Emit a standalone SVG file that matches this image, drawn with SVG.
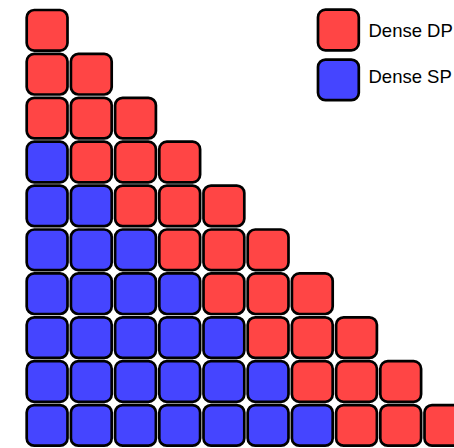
<svg xmlns="http://www.w3.org/2000/svg" width="454" height="448" viewBox="0 0 454 448">
<style>
.c{stroke:#000;stroke-width:2.7}
.r{fill:#ff4545}
.b{fill:#4545ff}
.t{font-family:"Liberation Sans",Arial,sans-serif;font-size:18.5px;fill:#000}
</style>
<rect width="454" height="448" fill="#fff"/>
<defs>
<rect id="cell" width="40.8" height="40.6" rx="7.5"/>
</defs>
<g id="grid">
<g id="row0"><use href="#cell" class="c r" x="26.7" y="10"/></g>
<g id="row1"><use href="#cell" class="c r" x="26.7" y="53.9"/><use href="#cell" class="c r" x="70.9" y="53.9"/></g>
<g id="row2"><use href="#cell" class="c r" x="26.7" y="97.8"/><use href="#cell" class="c r" x="70.9" y="97.8"/><use href="#cell" class="c r" x="115.1" y="97.8"/></g>
<g id="row3"><use href="#cell" class="c b" x="26.7" y="141.7"/><use href="#cell" class="c r" x="70.9" y="141.7"/><use href="#cell" class="c r" x="115.1" y="141.7"/><use href="#cell" class="c r" x="159.3" y="141.7"/></g>
<g id="row4"><use href="#cell" class="c b" x="26.7" y="185.6"/><use href="#cell" class="c b" x="70.9" y="185.6"/><use href="#cell" class="c r" x="115.1" y="185.6"/><use href="#cell" class="c r" x="159.3" y="185.6"/><use href="#cell" class="c r" x="203.5" y="185.6"/></g>
<g id="row5"><use href="#cell" class="c b" x="26.7" y="229.5"/><use href="#cell" class="c b" x="70.9" y="229.5"/><use href="#cell" class="c b" x="115.1" y="229.5"/><use href="#cell" class="c r" x="159.3" y="229.5"/><use href="#cell" class="c r" x="203.5" y="229.5"/><use href="#cell" class="c r" x="247.7" y="229.5"/></g>
<g id="row6"><use href="#cell" class="c b" x="26.7" y="273.4"/><use href="#cell" class="c b" x="70.9" y="273.4"/><use href="#cell" class="c b" x="115.1" y="273.4"/><use href="#cell" class="c b" x="159.3" y="273.4"/><use href="#cell" class="c r" x="203.5" y="273.4"/><use href="#cell" class="c r" x="247.7" y="273.4"/><use href="#cell" class="c r" x="291.9" y="273.4"/></g>
<g id="row7"><use href="#cell" class="c b" x="26.7" y="317.3"/><use href="#cell" class="c b" x="70.9" y="317.3"/><use href="#cell" class="c b" x="115.1" y="317.3"/><use href="#cell" class="c b" x="159.3" y="317.3"/><use href="#cell" class="c b" x="203.5" y="317.3"/><use href="#cell" class="c r" x="247.7" y="317.3"/><use href="#cell" class="c r" x="291.9" y="317.3"/><use href="#cell" class="c r" x="336.1" y="317.3"/></g>
<g id="row8"><use href="#cell" class="c b" x="26.7" y="361.2"/><use href="#cell" class="c b" x="70.9" y="361.2"/><use href="#cell" class="c b" x="115.1" y="361.2"/><use href="#cell" class="c b" x="159.3" y="361.2"/><use href="#cell" class="c b" x="203.5" y="361.2"/><use href="#cell" class="c b" x="247.7" y="361.2"/><use href="#cell" class="c r" x="291.9" y="361.2"/><use href="#cell" class="c r" x="336.1" y="361.2"/><use href="#cell" class="c r" x="380.3" y="361.2"/></g>
<g id="row9"><use href="#cell" class="c b" x="26.7" y="405.1"/><use href="#cell" class="c b" x="70.9" y="405.1"/><use href="#cell" class="c b" x="115.1" y="405.1"/><use href="#cell" class="c b" x="159.3" y="405.1"/><use href="#cell" class="c b" x="203.5" y="405.1"/><use href="#cell" class="c b" x="247.7" y="405.1"/><use href="#cell" class="c b" x="291.9" y="405.1"/><use href="#cell" class="c r" x="336.1" y="405.1"/><use href="#cell" class="c r" x="380.3" y="405.1"/><use href="#cell" class="c r" x="424.5" y="405.1"/></g>
</g>
<g id="legend-dp"><use href="#cell" class="c r" x="318" y="9.7"/><text class="t" x="368.5" y="36.7">Dense DP</text></g>
<g id="legend-sp"><use href="#cell" class="c b" x="318" y="59.6"/><text class="t" x="368.5" y="82.7">Dense SP</text></g>
</svg>
